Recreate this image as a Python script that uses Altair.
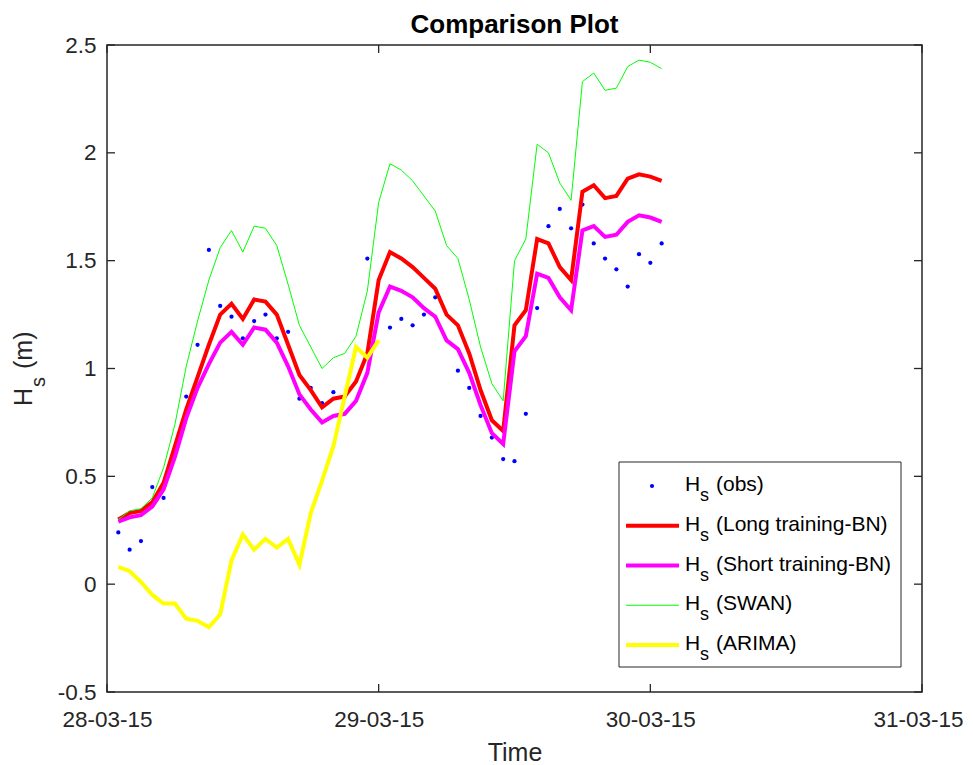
import altair as alt
import pandas as pd

# ---------------- data (hours after 28-03-15 00:00) ----------------
hours = list(range(1, 50))

obs_hours = [1, 2, 3, 4, 5, 7, 8, 9, 10, 11, 12, 13, 14, 15, 16, 17, 18, 19, 20, 21,
             23, 25, 26, 27, 28, 29, 31, 32, 33, 34, 35, 36, 37, 38, 39, 40, 41, 42,
             43, 44, 45, 46, 47, 48, 49]
obs_values = [0.24, 0.16, 0.20, 0.45, 0.40, 0.87, 1.11, 1.55, 1.29, 1.24, 1.14, 1.22,
              1.25, 1.14, 1.17, 0.86, 0.91, 0.84, 0.89, 0.87, 1.51, 1.19, 1.23, 1.20,
              1.25, 1.33, 0.99, 0.91, 0.78, 0.68, 0.58, 0.57, 0.79, 1.28, 1.66, 1.74,
              1.65, 1.76, 1.58, 1.51, 1.46, 1.38, 1.53, 1.49, 1.58]

long_bn = [0.30, 0.33, 0.34, 0.38, 0.47, 0.64, 0.81, 0.96, 1.11, 1.25, 1.30, 1.23,
           1.32, 1.31, 1.25, 1.11, 0.97, 0.90, 0.82, 0.86, 0.87, 0.94, 1.07, 1.41,
           1.54, 1.51, 1.47, 1.42, 1.37, 1.25, 1.20, 1.07, 0.90, 0.76, 0.71, 1.20,
           1.27, 1.60, 1.58, 1.47, 1.41, 1.82, 1.85, 1.79, 1.80, 1.88, 1.90, 1.89, 1.87]

short_bn = [0.29, 0.31, 0.32, 0.36, 0.44, 0.59, 0.77, 0.91, 1.02, 1.12, 1.17, 1.11,
            1.19, 1.18, 1.12, 1.01, 0.88, 0.81, 0.75, 0.78, 0.79, 0.85, 0.98, 1.26,
            1.38, 1.36, 1.33, 1.28, 1.24, 1.13, 1.09, 0.98, 0.83, 0.70, 0.65, 1.08,
            1.15, 1.44, 1.42, 1.33, 1.27, 1.64, 1.66, 1.61, 1.62, 1.68, 1.71, 1.70, 1.68]

swan = [0.30, 0.34, 0.35, 0.40, 0.54, 0.74, 1.01, 1.22, 1.41, 1.56, 1.64, 1.54,
        1.66, 1.65, 1.57, 1.39, 1.20, 1.10, 1.00, 1.05, 1.07, 1.15, 1.36, 1.77,
        1.95, 1.92, 1.87, 1.80, 1.73, 1.57, 1.51, 1.32, 1.10, 0.93, 0.85, 1.50,
        1.60, 2.04, 2.00, 1.86, 1.78, 2.33, 2.37, 2.29, 2.30, 2.40, 2.43, 2.42, 2.39]

arima_hours = list(range(1, 25))
arima = [0.08, 0.06, 0.01, -0.05, -0.09, -0.09, -0.16, -0.17, -0.20, -0.14, 0.11,
         0.23, 0.16, 0.21, 0.17, 0.21, 0.09, 0.33, 0.48, 0.64, 0.87, 1.10, 1.05, 1.13]

series_names = ["obs", "Long training-BN", "Short training-BN", "SWAN", "ARIMA"]
legend_labels = ["(obs)", "(Long training-BN)", "(Short training-BN)", "(SWAN)", "(ARIMA)"]
series_colors = ["#0000FF", "#FF0000", "#FF00FF", "#00FF00", "#FFFF00"]
line_widths = [0, 4, 4, 1, 4]

x_ticks = [0, 24, 48, 72]
x_tick_labels = ["28-03-15", "29-03-15", "30-03-15", "31-03-15"]
y_ticks = [-0.5, 0, 0.5, 1, 1.5, 2, 2.5]
y_tick_labels = ["-0.5", "0", "0.5", "1", "1.5", "2", "2.5"]

# ---------------- styling ----------------
W, H = 815, 647
FONT = "Liberation Sans"
AX = "#262626"

x_scale = alt.Scale(domain=[0, 72], nice=False, zero=False)
y_scale = alt.Scale(domain=[-0.5, 2.5], nice=False, zero=False)

x_label_expr = "[" + ",".join("'%s'" % s for s in x_tick_labels) + "][indexof([" + \
    ",".join(str(v) for v in x_ticks) + "], datum.value)]"
y_label_expr = "[" + ",".join("'%s'" % s for s in y_tick_labels) + "][indexof([" + \
    ",".join(str(v) for v in y_ticks) + "], datum.value)]"

x_axis = alt.Axis(values=x_ticks, labelExpr=x_label_expr, title="Time", ticks=False,
                  domain=False, grid=False, labelFlush=False, labelOverlap=False,
                  labelOffset={"condition": {"test": "datum.value == %d" % x_ticks[-1],
                                             "value": -4}, "value": 0},
                  labelPadding=16, labelFontSize=22.5, labelFont=FONT, labelColor=AX,
                  titleFont=FONT, titleFontSize=25, titleFontWeight="normal",
                  titleColor=AX, titlePadding=10)
y_axis = alt.Axis(values=y_ticks, labelExpr=y_label_expr, title="", ticks=False,
                  domain=False, grid=False, labelFlush=False, labelOverlap=False,
                  labelPadding=11, labelFontSize=22.5, labelFont=FONT, labelColor=AX)


def X(field):
    return alt.X(field, scale=x_scale, axis=x_axis)


def Y(field):
    return alt.Y(field, scale=y_scale, axis=y_axis)


obs_df = pd.DataFrame({"hour": obs_hours, "value": obs_values})
layers = []
layers.append(
    alt.Chart(obs_df).mark_circle(size=18, color=series_colors[0], opacity=1).encode(
        x=X("hour:Q"), y=Y("value:Q"))
)

line_series = [(hours, long_bn), (hours, short_bn), (hours, swan), (arima_hours, arima)]
for i, (hh, vals) in enumerate(line_series, start=1):
    df = pd.DataFrame({"hour": hh, "value": vals})
    layers.append(
        alt.Chart(df).mark_line(color=series_colors[i], strokeWidth=line_widths[i]).encode(
            x=X("hour:Q"), y=Y("value:Q"))
    )

# inward ticks on all four sides
yt_df = pd.DataFrame({"v": y_ticks})
xt_df = pd.DataFrame({"v": x_ticks})
TL = 8
layers += [
    alt.Chart(yt_df).mark_rule(color=AX, strokeWidth=1.3).encode(
        y=Y("v:Q"), x=alt.value(0), x2=alt.value(TL)),
    alt.Chart(yt_df).mark_rule(color=AX, strokeWidth=1.3).encode(
        y=Y("v:Q"), x=alt.value(W - TL), x2=alt.value(W)),
    alt.Chart(xt_df).mark_rule(color=AX, strokeWidth=1.3).encode(
        x=X("v:Q"), y=alt.value(H - TL), y2=alt.value(H)),
    alt.Chart(xt_df).mark_rule(color=AX, strokeWidth=1.3).encode(
        x=X("v:Q"), y=alt.value(0), y2=alt.value(TL)),
]

# y-axis title with subscript
one = pd.DataFrame({"a": [0]})
layers += [
    alt.Chart(one).mark_text(angle=270, align="left", baseline="alphabetic", font=FONT,
                             fontSize=25, color=AX).encode(
        x=alt.value(-75), y=alt.value(361), text=alt.value("H")),
    alt.Chart(one).mark_text(angle=270, align="left", baseline="alphabetic", font=FONT,
                             fontSize=20, color=AX).encode(
        x=alt.value(-62), y=alt.value(342), text=alt.value("s")),
    alt.Chart(one).mark_text(angle=270, align="left", baseline="alphabetic", font=FONT,
                             fontSize=25, color=AX).encode(
        x=alt.value(-75), y=alt.value(324), text=alt.value("(m)")),
]

# legend
leg_df = pd.DataFrame({"row": list(range(5)), "label": legend_labels,
                       "color": series_colors, "lw": line_widths})
leg = alt.Chart(leg_df).transform_calculate(py="441 + datum.row * 39.75")
ypy = alt.Y("py:Q", scale=None, axis=None)
layers += [
    alt.Chart(one).mark_rect(fill="white", stroke=AX, strokeWidth=1).encode(
        x=alt.value(512), x2=alt.value(794), y=alt.value(417), y2=alt.value(622)),
    leg.transform_filter("datum.row > 0").mark_rule().encode(
        x=alt.value(519), x2=alt.value(572), y=ypy,
        color=alt.Color("color:N", scale=None, legend=None),
        strokeWidth=alt.StrokeWidth("lw:Q", scale=None, legend=None)),
    leg.transform_filter("datum.row == 0").mark_circle(size=18, color=series_colors[0],
                                                      opacity=1).encode(
        x=alt.value(545), y=ypy),
    leg.mark_text(align="left", baseline="alphabetic", dy=5, font=FONT, fontSize=21,
                  color="black").encode(x=alt.value(578), y=ypy, text=alt.value("H")),
    leg.mark_text(align="left", baseline="alphabetic", dy=15, font=FONT, fontSize=18,
                  color="black").encode(x=alt.value(593), y=ypy, text=alt.value("s")),
    leg.mark_text(align="left", baseline="alphabetic", dy=5, font=FONT, fontSize=21,
                  color="black").encode(x=alt.value(609), y=ypy, text="label:N"),
]

chart = alt.layer(*layers).properties(
    width=W, height=H,
    title=alt.TitleParams("Comparison Plot", font=FONT, fontSize=26, fontWeight="bold",
                          color="black", anchor="middle", frame="group", offset=-4),
    autosize=alt.AutoSizeParams(type="none"),
    padding={"left": 99, "top": 37, "right": 43, "bottom": 73},
).configure(background="white").configure_view(stroke=AX, strokeWidth=1.5)

chart.save("out.html", embed_options={"renderer": "svg", "actions": False})
